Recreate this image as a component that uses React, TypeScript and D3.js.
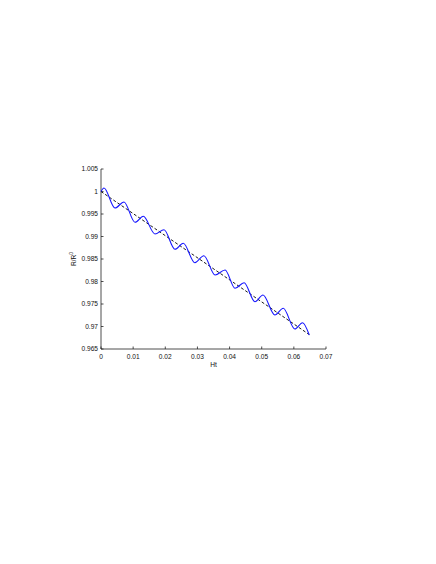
import React from "react";
import * as d3 from "d3";

const W = 436;
const H = 564;

// Solid curve: start, alternating peaks/troughs, end (x = Ht, y = R/R0)
const curveX = [0, 0.00093, 0.00435, 0.00715, 0.01058, 0.01316, 0.0168, 0.0196, 0.023, 0.0256, 0.0292, 0.032, 0.0355, 0.0386, 0.0417, 0.0445, 0.0479, 0.0504, 0.0541, 0.0567, 0.0603, 0.0627, 0.0648];
const curveY = [1.0, 1.00078, 0.99633, 0.99767, 0.99316, 0.99449, 0.99056, 0.99151, 0.98716, 0.98849, 0.98418, 0.98573, 0.98144, 0.98256, 0.97849, 0.97973, 0.97551, 0.977, 0.97256, 0.97404, 0.96944, 0.97084, 0.9681];

// Dashed trend line
const trendX = [0, 0.0648];
const trendY = [1.0, 0.9682];

const xTicks = [0, 0.01, 0.02, 0.03, 0.04, 0.05, 0.06, 0.07];
const xTickLabels = ["0", "0.01", "0.02", "0.03", "0.04", "0.05", "0.06", "0.07"];
const yTicks = [0.965, 0.97, 0.975, 0.98, 0.985, 0.99, 0.995, 1, 1.005];
const yTickLabels = ["0.965", "0.97", "0.975", "0.98", "0.985", "0.99", "0.995", "1", "1.005"];

export default function App() {
  const left = 101, right = 326, top = 169, bottom = 349;
  const x = d3.scaleLinear().domain([0, 0.07]).range([left, right]);
  const y = d3.scaleLinear().domain([0.965, 1.005]).range([bottom, top]);

  const solid = d3
    .line<number>()
    .x((_, i) => x(curveX[i]))
    .y((d) => y(d))
    .curve(d3.curveMonotoneX)(curveY) as string;
  const dashed = d3
    .line<number>()
    .x((_, i) => x(trendX[i]))
    .y((d) => y(d))(trendY) as string;

  const font = "'Liberation Sans', Arial, Helvetica, sans-serif";
  const fs = 6.6;
  const axisColor = "#222";

  return (
    <svg
      width={W}
      height={H}
      style={{ position: "absolute", left: 0, top: 0, background: "#fff" }}
      fontFamily={font}
    >
      <rect width={W} height={H} fill="#fff" />
      {/* axes */}
      <line x1={left} y1={top} x2={left} y2={bottom} stroke={axisColor} strokeWidth={0.8} />
      <line x1={left} y1={bottom} x2={right} y2={bottom} stroke={axisColor} strokeWidth={0.8} />
      {yTicks.map((t, i) => (
        <g key={"y" + i}>
          <line x1={left} x2={left + 2.5} y1={y(t)} y2={y(t)} stroke={axisColor} strokeWidth={0.8} />
          <text x={left - 3} y={y(t)} dy="0.35em" textAnchor="end" fontSize={fs} fill="#111">
            {yTickLabels[i]}
          </text>
        </g>
      ))}
      {xTicks.map((t, i) => (
        <g key={"x" + i}>
          <line x1={x(t)} x2={x(t)} y1={bottom} y2={bottom - 2.5} stroke={axisColor} strokeWidth={0.8} />
          <text x={x(t)} y={bottom + 9.5} textAnchor="middle" fontSize={fs} fill="#111">
            {xTickLabels[i]}
          </text>
        </g>
      ))}
      <text x={(left + right) / 2} y={bottom + 18} textAnchor="middle" fontSize={fs} fill="#111">
        Ht
      </text>
      <text
        transform={`translate(${left - 25},${(top + bottom) / 2}) rotate(-90)`}
        textAnchor="middle"
        fontSize={fs}
        fill="#111"
      >
        R/R<tspan dy={-3} fontSize={fs * 0.75}>0</tspan>
      </text>
      {/* data */}
      <path d={dashed} fill="none" stroke="#000" strokeWidth={0.9} strokeDasharray="3,2" />
      <path d={solid} fill="none" stroke="#1515ff" strokeWidth={1.1} />
    </svg>
  );
}
